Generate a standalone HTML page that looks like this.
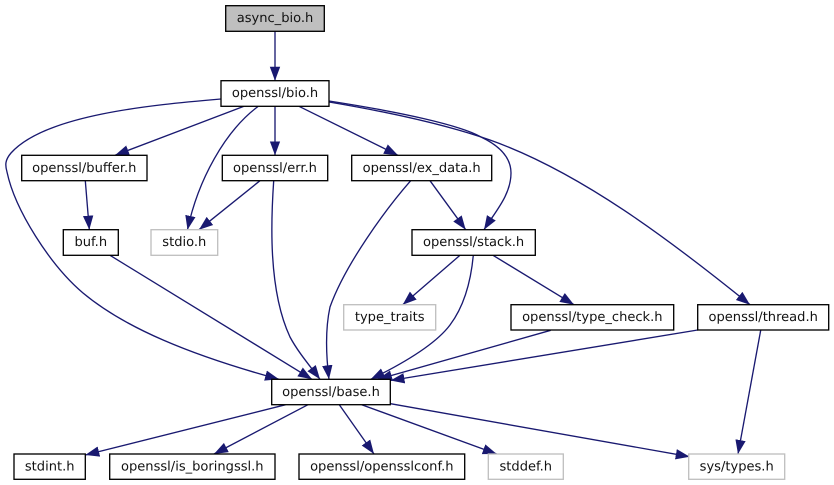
<!DOCTYPE html>
<html>
<head>
<meta charset="utf-8">
<style>
html,body{margin:0;padding:0;background:#fff;width:834px;height:485px;overflow:hidden}
svg{display:block}
text{font-family:"DejaVu Sans",sans-serif;font-size:13.05px;text-anchor:middle;fill:#111;text-rendering:geometricPrecision}
.n{fill:#fff;stroke:#000;stroke-width:1.33}
.g{fill:#fff;stroke:#bfbfbf;stroke-width:1.33}
.e{fill:none;stroke:#191970;stroke-width:1.33;marker-end:url(#a)}
</style>
</head>
<body>
<svg width="834" height="485" viewBox="0 0 834 485" xmlns="http://www.w3.org/2000/svg">
<defs>
<marker id="a" markerUnits="userSpaceOnUse" markerWidth="15" markerHeight="12" refX="14" refY="5.5" orient="auto">
<path d="M0 0.3L14 5.5L0 10.7Z" fill="#191970"/>
</marker>
</defs>

<path class="e" d="M275 31.3L275 80.7"/>
<path class="e" d="M244 106.3L115 155.3"/>
<path class="e" d="M258 106.5C225 131 198 180 187.5 229.7"/>
<path class="e" d="M275 106.3L275 155.3"/>
<path class="e" d="M299 106.3L398 155.3"/>
<path class="e" d="M221 99C150 105 45 115 11 153C5 160 5 165 7 172C15 210 50 265 83 293C125 328 190 355 279 379.3"/>
<path class="e" d="M329 101C400 112 460 125 481 137C500 146 511 158 511 173C511 195 495 212 484 229.7"/>
<path class="e" d="M329 102C400 114 450 126 490 140C580 172 670 240 750 304.7"/>
<path class="e" d="M85.3 180.7L89.3 229.7"/>
<path class="e" d="M260 180.7L199 229.7"/>
<path class="e" d="M273.7 180.7C271 220 268 290 290 337C298 352 310 366 320 379.3"/>
<path class="e" d="M110 255.3L312 379.3"/>
<path class="e" d="M430 180.7L465.7 229.7"/>
<path class="e" d="M410.7 180.7C385 210 345 265 330 307C325 330 326 355 329 379.3"/>
<path class="e" d="M460 255.3L402.7 304.7"/>
<path class="e" d="M473.3 255.3C471 280 465 305 450 325C435 345 400 365 370.7 379.3"/>
<path class="e" d="M493 255.3L574 304.7"/>
<path class="e" d="M550.7 330.3L378 379.3"/>
<path class="e" d="M697.7 330L390.5 380.5"/>
<path class="e" d="M760.7 330.3L738 454"/>
<path class="e" d="M285.7 404.7L85.3 455"/>
<path class="e" d="M308 404.7L214 454"/>
<path class="e" d="M339.3 404.7L374 454"/>
<path class="e" d="M361.7 404.7L496.7 454"/>
<path class="e" d="M390.5 403.7L689.7 456.7"/>

<rect x="225.7" y="5.7" width="98.6" height="25.6" fill="#bfbfbf" stroke="#000" stroke-width="1.33"/>
<text x="275" y="22.2">async_bio.h</text>
<rect class="n" x="221" y="80.7" width="108" height="25.6"/>
<text x="275" y="97.2">openssl/bio.h</text>
<rect class="n" x="21.7" y="155.3" width="125.3" height="25.4"/>
<text x="84.3" y="171.8">openssl/buffer.h</text>
<rect class="n" x="222.3" y="155.3" width="105.4" height="25.4"/>
<text x="275" y="171.8">openssl/err.h</text>
<rect class="n" x="351.7" y="155.3" width="140" height="25.4"/>
<text x="421.7" y="171.8">openssl/ex_data.h</text>
<rect class="n" x="63.3" y="229.7" width="55" height="25.6"/>
<text x="90.8" y="246.2">buf.h</text>
<rect class="g" x="151" y="229.7" width="66.7" height="25.6"/>
<text x="184.3" y="246.2">stdio.h</text>
<rect class="n" x="412" y="229.7" width="123.3" height="25.6"/>
<text x="473.6" y="246.2">openssl/stack.h</text>
<rect class="g" x="343.7" y="304.7" width="92" height="25.3"/>
<text x="389.7" y="321.2">type_traits</text>
<rect class="n" x="511" y="304.7" width="162.7" height="25.3"/>
<text x="592.3" y="321.2">openssl/type_check.h</text>
<rect class="n" x="697.7" y="304.7" width="131" height="25.3"/>
<text x="763.2" y="321.2">openssl/thread.h</text>
<rect class="n" x="271.7" y="379.3" width="118.6" height="25.4"/>
<text x="331" y="395.8">openssl/base.h</text>
<rect class="n" x="14" y="454" width="71.3" height="25.3"/>
<text x="49.7" y="470.5">stdint.h</text>
<rect class="n" x="109.7" y="454" width="165.3" height="25.3"/>
<text x="192.3" y="470.5">openssl/is_boringssl.h</text>
<rect class="n" x="299" y="454" width="165.7" height="25.3"/>
<text x="381.8" y="470.5">openssl/opensslconf.h</text>
<rect class="g" x="488.3" y="454" width="75" height="25.3"/>
<text x="525.8" y="470.5">stddef.h</text>
<rect class="g" x="688.7" y="454" width="96" height="25.3"/>
<text x="736.7" y="470.5">sys/types.h</text>
</svg>
</body>
</html>
